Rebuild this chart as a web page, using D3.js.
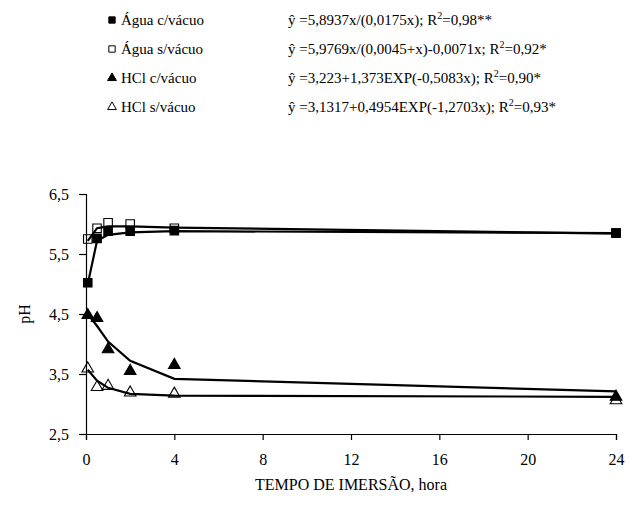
<!DOCTYPE html>
<html>
<head>
<meta charset="utf-8">
<script src="https://cdn.jsdelivr.net/npm/d3@7/dist/d3.min.js"></script>
<style>
  body { margin: 0; background: #fff; }
  text { font-family: "Liberation Serif", "Times New Roman", serif; fill: #000; }
</style>
</head>
<body>
<div id="chart"></div>
<script>

// tempo de imersao (hora)
var horas = [0.08, 0.5, 1, 2, 4, 24];

// valores observados de pH
var aguaCV = [5.02, 5.76, 5.88, 5.88, 5.89, 5.85],
    aguaSV = [5.75, 5.93, 6.02, 6.00, 5.93, 5.85],
    hclCV  = [4.48, 4.43, 3.91, 3.55, 3.65, 3.12],
    hclSV  = [3.59, 3.28, 3.30, 3.19, 3.17, 3.06];

// valores estimados (linhas de ajuste)
var aguaCVFit = [5.00, 5.72, 5.82, 5.86, 5.88, 5.85],
    aguaSVFit = [5.72, 5.93, 5.96, 5.96, 5.94, 5.84],
    hclCVFit  = [4.50, 4.30, 4.04, 3.72, 3.42, 3.21],
    hclSVFit  = [3.57, 3.39, 3.27, 3.17, 3.14, 3.12];

var xTicks = [0, 4, 8, 12, 16, 20, 24],
    yTicks = [2.5, 3.5, 4.5, 5.5, 6.5];

var legendNames = ["Água c/vácuo", "Água s/vácuo", "HCl c/vácuo", "HCl s/vácuo"],
    legendEq = [
      ["ŷ =5,8937x/(0,0175x); R", "=0,98**"],
      ["ŷ =5,9769x/(0,0045+x)-0,0071x; R", "=0,92*"],
      ["ŷ =3,223+1,373EXP(-0,5083x); R", "=0,90*"],
      ["ŷ =3,1317+0,4954EXP(-1,2703x); R", "=0,93*"]
    ];

var svg_dx = 629,
    svg_dy = 506,
    plot = {left: 86, right: 616, top: 194, bottom: 434};

var x = d3.scaleLinear().domain([0, 24]).range([plot.left, plot.right]),
    y = d3.scaleLinear().domain([2.5, 6.5]).range([plot.bottom, plot.top]);

var svg = d3.select("#chart")
            .append("svg")
            .attr("width", svg_dx)
            .attr("height", svg_dy);

var series = [
  {obs: aguaCV, fit: aguaCVFit, shape: d3.symbolSquare, fill: "#000", size: 72},
  {obs: aguaSV, fit: aguaSVFit, shape: d3.symbolSquare, fill: "none", size: 72},
  {obs: hclCV,  fit: hclCVFit,  shape: d3.symbolTriangle, fill: "#000", size: 58},
  {obs: hclSV,  fit: hclSVFit,  shape: d3.symbolTriangle, fill: "none", size: 58}
];

// axes
var axis_x = d3.axisBottom(x).tickValues(xTicks).tickSize(6).tickPadding(14).tickFormat(d3.format("d")),
    axis_y = d3.axisLeft(y).tickValues(yTicks).tickSize(7).tickPadding(10)
               .tickFormat(d => d3.format(".1f")(d).replace(".", ","));

var gx = svg.append("g")
   .attr("transform", "translate(0," + plot.bottom + ")")
   .call(axis_x);
var gy = svg.append("g")
   .attr("transform", "translate(" + plot.left + ",0)")
   .call(axis_y);

[gx, gy].forEach(g => {
  g.select(".domain").attr("stroke", "#000").attr("stroke-width", 1.2);
  g.selectAll(".tick line").attr("stroke", "#000").attr("stroke-width", 1.2);
  g.selectAll(".tick text").style("font-size", "16px").attr("font-family", null);
});

svg.append("text")
   .attr("x", (plot.left + plot.right) / 2)
   .attr("y", 490)
   .attr("text-anchor", "middle")
   .style("font-size", "16px")
   .text("TEMPO DE IMERSÃO, hora");

svg.append("text")
   .attr("transform", "translate(30," + (plot.top + plot.bottom) / 2 + ") rotate(-90)")
   .attr("text-anchor", "middle")
   .style("font-size", "16px")
   .text("pH");

// observed points (open series first so filled ones sit on top)
[1, 0, 3, 2].forEach(k => {
  var s = series[k];
  svg.append("g")
     .selectAll("path")
     .data(s.obs)
     .enter()
     .append("path")
     .attr("d", d3.symbol().type(s.shape).size(s.size))
     .attr("transform", (d, i) => "translate(" + x(horas[i]) + "," + y(d) + ")")
     .attr("fill", s.fill)
     .attr("stroke", "#000")
     .attr("stroke-width", 1.1);
});

// fitted lines
var line = d3.line()
    .x((d, i) => x(horas[i]))
    .y(d => y(d));

series.forEach(s => {
  svg.append("path")
     .datum(s.fit)
     .attr("d", line)
     .attr("fill", "none")
     .attr("stroke", "#000")
     .attr("stroke-width", 2.2);
});

// legend
var leg = svg.append("g");
var rowY = d3.scaleLinear().domain([0, 3]).range([20, 107]);

legendNames.forEach((name, i) => {
  var s = series[i],
      cy = rowY(i);
  var small = s.shape === d3.symbolSquare ? 40 : 34;
  leg.append("path")
     .attr("d", d3.symbol().type(s.shape).size(small))
     .attr("transform", "translate(112," + cy + ")")
     .attr("fill", s.fill === "none" ? "#fff" : s.fill)
     .attr("stroke", "#000")
     .attr("stroke-width", 1);
  leg.append("text")
     .attr("x", 121)
     .attr("y", cy + 5)
     .style("font-size", "15px")
     .text(name);
  var t = leg.append("text")
     .attr("x", 288)
     .attr("y", cy + 5)
     .style("font-size", "15px");
  t.append("tspan").text(legendEq[i][0]);
  t.append("tspan").attr("dy", -6).style("font-size", "10px").text("2");
  t.append("tspan").attr("dy", 6).text(legendEq[i][1]);
});

</script>
</body>
</html>
